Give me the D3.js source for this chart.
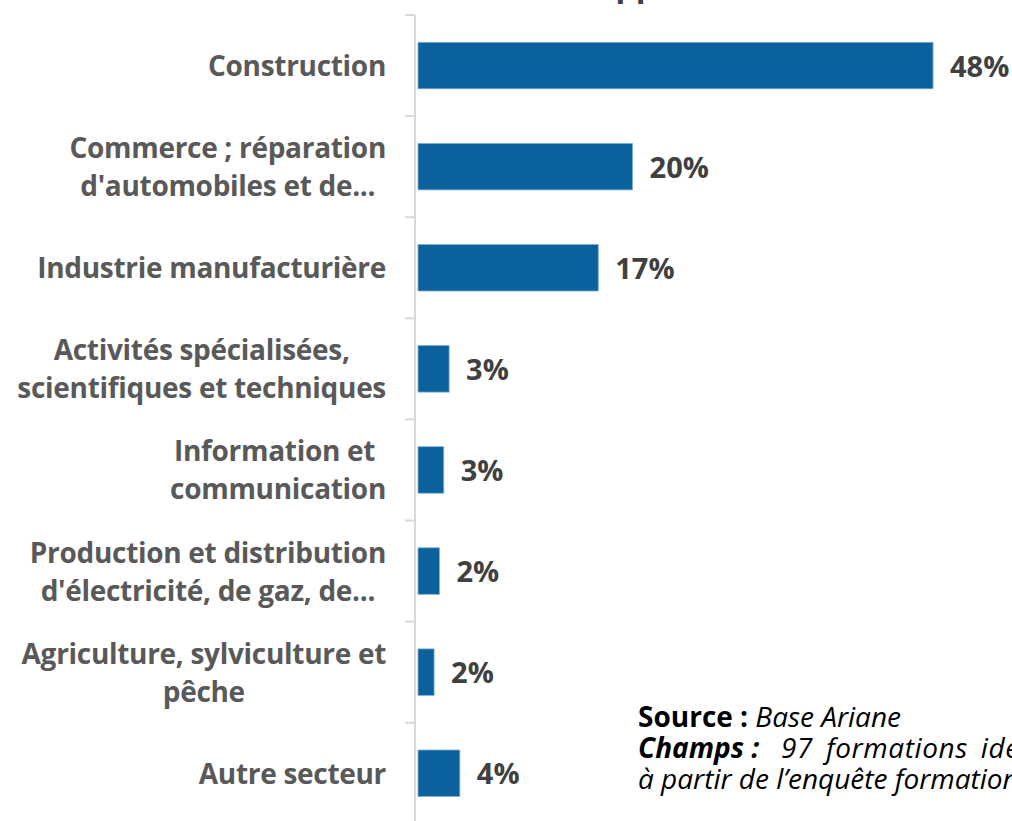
<!DOCTYPE html>
<html>
<head>
<meta charset="utf-8">
<script src="https://cdn.jsdelivr.net/npm/d3@7"></script>
<style>
  body { margin: 0; background: #fff; overflow: hidden; }
  svg { display: block; }
</style>
</head>
<body>
<svg id="chart" width="1012" height="821"></svg>
<script>
// chart data
const categories = [
  "Construction",
  "Commerce ; réparation\nd'automobiles et de...",
  "Industrie manufacturière",
  "Activités spécialisées,\nscientifiques et techniques",
  "Information et \ncommunication",
  "Production et distribution\nd'électricité, de gaz, de...",
  "Agriculture, sylviculture et\npêche",
  "Autre secteur"
];
const values = [48, 20, 16.8, 2.9, 2.4, 2.0, 1.5, 3.9];
const valueLabels = ["48%", "20%", "17%", "3%", "3%", "2%", "2%", "4%"];
const titleText = "Secteur d'activité des apprentis";

const font = "'Open Sans', 'Noto Sans', sans-serif";
const svg = d3.select("#chart");

const x = d3.scaleLinear().domain([0, 50]).range([418, 418 + 50 * 10.73]);
const y = d3.scaleBand()
  .domain(categories)
  .range([15, 15 + 8 * 101.1])
  .paddingInner(0.54)
  .paddingOuter(0.27);

// cut-off title at the very top (only the descenders of "pp" show)
const title = svg.append("text")
  .attr("y", -4)
  .style("font-family", font)
  .style("font-weight", "bold")
  .style("font-size", "32px")
  .style("fill", "#404040")
  .text(titleText);
const ppIndex = titleText.indexOf("pp");
const offset = title.node().getSubStringLength(0, ppIndex);
title.attr("x", 615.5 - offset);

// axis line + ticks between categories
const axisX = 415;
const step = y.step();
const y0 = y.range()[0];
svg.append("line")
  .attr("x1", axisX).attr("x2", axisX)
  .attr("y1", y0).attr("y2", 830)
  .style("stroke", "#d9d9d9")
  .style("stroke-width", 2);
svg.selectAll(".tick")
  .data(d3.range(categories.length + 1))
  .enter()
  .append("line")
  .attr("class", "tick")
  .attr("x1", axisX - 10).attr("x2", axisX)
  .attr("y1", i => y0 + i * step)
  .attr("y2", i => y0 + i * step)
  .style("stroke", "#d9d9d9")
  .style("stroke-width", 2);

// bars
svg.selectAll(".bar")
  .data(categories)
  .enter()
  .append("rect")
  .attr("class", "bar")
  .attr("x", x(0))
  .attr("y", d => y(d))
  .attr("width", (d, i) => x(values[i]) - x(0))
  .attr("height", y.bandwidth())
  .style("fill", "#0b619b")
  .style("stroke", "#7fb0d6")
  .style("stroke-width", 0.8);

// value labels
svg.selectAll(".value")
  .data(categories)
  .enter()
  .append("text")
  .attr("class", "value")
  .attr("x", (d, i) => x(values[i]) + 17)
  .attr("y", d => y(d) + y.bandwidth() / 2 + 11)
  .style("font-family", font)
  .style("font-weight", "bold")
  .style("font-size", "29px")
  .style("fill", "#404040")
  .text((d, i) => valueLabels[i]);

// category labels: lines centred inside a block that is right-aligned
const labelRight = 386;
const lineGap = 38;
categories.forEach(cat => {
  const lines = cat.split("\n");
  const cy = y(cat) + y.bandwidth() / 2;
  const g = svg.append("g");
  const texts = lines.map((line, j) => g.append("text")
    .attr("y", cy + 10.5 + (j - (lines.length - 1) / 2) * lineGap)
    .style("font-family", font)
    .style("font-weight", "bold")
    .style("font-size", "28px")
    .style("letter-spacing", "-0.3px")
    .style("fill", "#595959")
    .style("white-space", "pre")
    .attr("text-anchor", "middle")
    .text(line));
  const maxW = d3.max(texts, t => t.node().getComputedTextLength());
  texts.forEach(t => t.attr("x", labelRight - maxW / 2));
});

// source note (runs off the right edge as in the original)
const note = svg.append("g")
  .style("font-family", font)
  .style("font-size", "28px")
  .style("fill", "#000");
const l1 = note.append("text").attr("x", 638).attr("y", 727);
l1.append("tspan").style("font-weight", "bold").text("Source : ");
l1.append("tspan").style("font-style", "italic").text("Base Ariane");
const l2 = note.append("text").attr("x", 638).attr("y", 758);
l2.append("tspan").style("font-weight", "bold").style("font-style", "italic").text("Champs :");
l2.append("tspan").attr("x", 781).style("font-style", "italic")
  .style("letter-spacing", "0.6px").style("word-spacing", "5px")
  .text("97 formations identifiées");
note.append("text").attr("x", 638).attr("y", 789)
  .style("font-style", "italic")
  .text("à partir de l’enquête formation");
</script>
</body>
</html>
